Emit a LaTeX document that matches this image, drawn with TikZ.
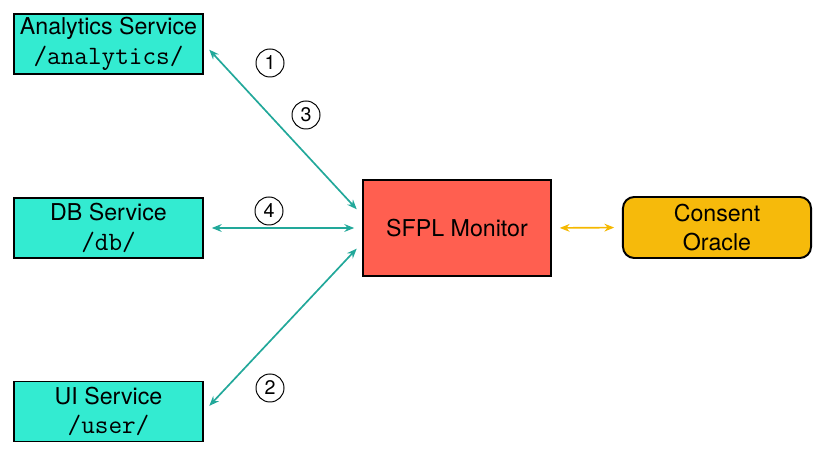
\documentclass[tikz,border=0pt]{standalone}
\usepackage{fontspec}
\setmainfont{TeX Gyre Heros}
\setmonofont{Latin Modern Mono}[Scale=1.14]
\usetikzlibrary{arrows.meta}
\definecolor{svcfill}{HTML}{33EBD1}
\definecolor{monfill}{HTML}{FF5F50}
\definecolor{orcfill}{HTML}{F6BA0B}
\definecolor{linkteal}{HTML}{22A89A}
\definecolor{linkgold}{HTML}{F5B800}
\begin{document}
\begin{tikzpicture}[x=0.025cm, y=-0.025cm, line width=1.4pt,
  >={Stealth[length=7pt,width=5.5pt]},
  svc/.style={draw, fill=svcfill, minimum width=4.725cm, minimum height=1.5cm,
    align=center, inner sep=0pt, font=\fontsize{16.5}{21}\selectfont},
  link/.style={<->, linkteal, line width=1.2pt, shorten <=5.5pt, shorten >=5.5pt},
  num/.style={draw, circle, line width=0.7pt, minimum size=0.7cm, inner sep=0pt,
    font=\fontsize{14}{14}\selectfont}]
  \useasboundingbox (0,0) rectangle (829,457);
  % services on the left
  \node[svc] (ana) at (108.5,44) {Analytics Service\\\texttt{/analytics/}};
  \node[svc] (db)  at (108.5,228) {DB Service\\\texttt{/db/}};
  \node[svc] (ui)  at (108.5,411.5) {UI Service\\\texttt{/user/}};
  % monitor and oracle
  \node[draw, fill=monfill, minimum width=4.7cm, minimum height=2.4cm,
    font=\fontsize{16.5}{19}\selectfont] (mon) at (457,228) {SFPL Monitor};
  \node[draw, fill=orcfill, rounded corners=8pt, minimum width=4.7cm,
    minimum height=1.525cm, align=center,
    font=\fontsize{16.5}{21}\selectfont] (orc) at (717,227.5) {Consent\\Oracle};
  % links
  \draw[link] (ana.east) -- ([yshift=0.325cm]mon.west);
  \draw[link] (db.east) -- (mon.west);
  \draw[link] (ui.east) -- ([yshift=-0.375cm]mon.west);
  \draw[link, linkgold] (mon.east) -- (orc.west);
  % step numbers
  \node[num] (n1) at (270,63) {1};
  \node[num] (n3) at (306,115) {3};
  \node[num] (n4) at (269,211) {4};
  \node[num] (n2) at (270,388) {2};
\end{tikzpicture}
\end{document}
